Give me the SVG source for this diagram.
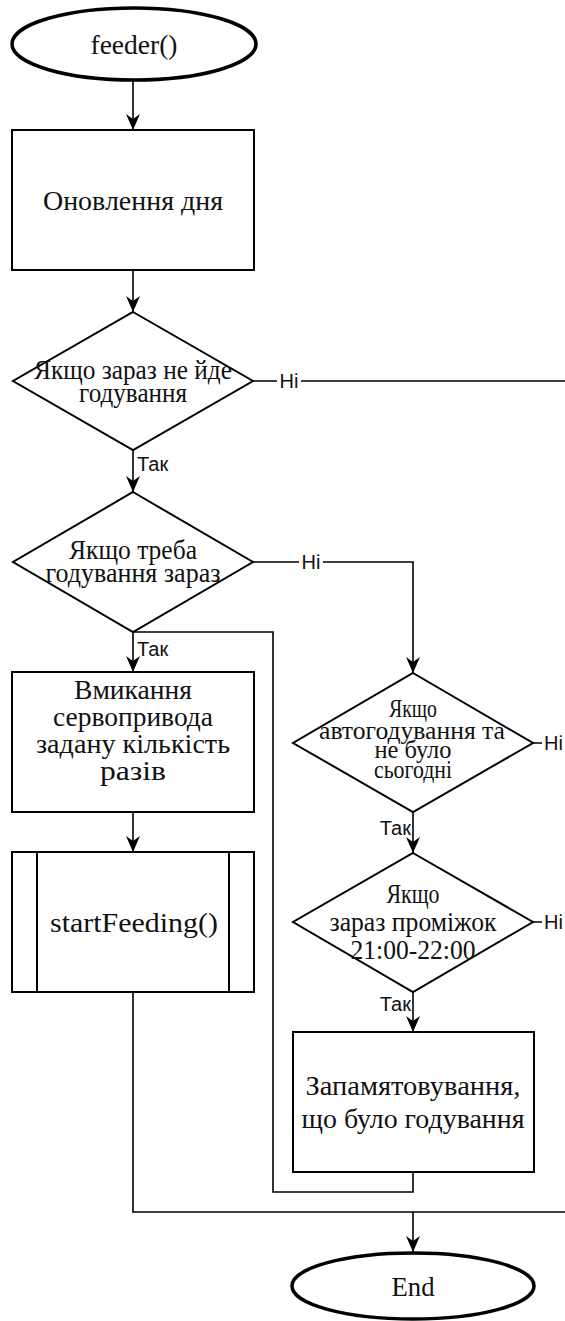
<svg xmlns="http://www.w3.org/2000/svg" width="565" height="1321" viewBox="0 0 565 1321">
  <defs>
    <marker id="arrow" viewBox="0 0 16 14" refX="16" refY="7" markerWidth="16" markerHeight="14" markerUnits="userSpaceOnUse" orient="auto">
      <path d="M0,0 L16,7 L0,14 L5,7 z" fill="#000"/>
    </marker>
    <style>
      .shape { fill: #ffffff; stroke: #000; stroke-width: 2; }
      .term { fill: #ffffff; stroke: #000; stroke-width: 3.5; }
      .edge { fill: none; stroke: #000; stroke-width: 1.6; }
      .txt { font-family: "Liberation Serif", "Times New Roman", serif; font-size: 27px; fill: #111; text-anchor: middle; }
      .sm { font-size: 26px; }
      .lbl { font-family: "Liberation Sans", Arial, sans-serif; font-size: 20px; fill: #111; }
    </style>
  </defs>
  <rect width="565" height="1321" fill="#ffffff"/>

  <!-- connectors -->
  <g id="connectors">
    <path class="edge" d="M133,80 V130" marker-end="url(#arrow)"/>
    <path class="edge" d="M133,270 V312" marker-end="url(#arrow)"/>
    <path class="edge" d="M253,381 H566"/>
    <path class="edge" d="M133,450 V492" marker-end="url(#arrow)"/>
    <path class="edge" d="M253,562 H413 V673" marker-end="url(#arrow)"/>
    <path class="edge" d="M133,632 V672" marker-end="url(#arrow)"/>
    <path class="edge" d="M413,1172 V1192 H273 V632 H133"/>
    <path class="edge" d="M133,812 V852" marker-end="url(#arrow)"/>
    <path class="edge" d="M133,992 V1212 H413 V1252" marker-end="url(#arrow)"/>
    <path class="edge" d="M566,1212 H413"/>
    <path class="edge" d="M533,743 H566"/>
    <path class="edge" d="M413,812 V853" marker-end="url(#arrow)"/>
    <path class="edge" d="M533,922 H566"/>
    <path class="edge" d="M413,992 V1032" marker-end="url(#arrow)"/>

    <!-- edge labels -->
    <rect x="277" y="370" width="24" height="22" fill="#ffffff"/>
    <text class="lbl" x="289" y="388" text-anchor="middle">Ні</text>
    <text class="lbl" x="137" y="471">Так</text>
    <rect x="299" y="551" width="24" height="22" fill="#ffffff"/>
    <text class="lbl" x="311" y="569" text-anchor="middle">Ні</text>
    <text class="lbl" x="137" y="656">Так</text>
    <rect x="542" y="732" width="23" height="22" fill="#ffffff"/>
    <text class="lbl" x="544" y="750">Ні</text>
    <text class="lbl" x="411" y="835" text-anchor="end">Так</text>
    <rect x="542" y="911" width="23" height="22" fill="#ffffff"/>
    <text class="lbl" x="544" y="929">Ні</text>
    <text class="lbl" x="411" y="1011" text-anchor="end">Так</text>
  </g>

  <g id="start">
    <ellipse class="term" cx="134" cy="44" rx="122" ry="36"/>
    <text class="txt" x="134" y="54" textLength="87" lengthAdjust="spacingAndGlyphs">feeder()</text>
  </g>

  <g id="update-day">
    <rect class="shape" x="12" y="130" width="242" height="140"/>
    <text class="txt" x="133" y="210" textLength="180" lengthAdjust="spacingAndGlyphs">Оновлення дня</text>
  </g>

  <g id="not-feeding">
    <polygon class="shape" points="133,312 253,381 133,450 13,381"/>
    <text class="txt" x="133" y="379" textLength="198" lengthAdjust="spacingAndGlyphs">Якщо зараз не йде</text>
    <text class="txt" x="133" y="402" textLength="108" lengthAdjust="spacingAndGlyphs">годування</text>
  </g>

  <g id="feed-now">
    <polygon class="shape" points="133,492 253,562 133,632 13,562"/>
    <text class="txt" x="133" y="559" textLength="128" lengthAdjust="spacingAndGlyphs">Якщо треба</text>
    <text class="txt" x="133" y="582" textLength="175" lengthAdjust="spacingAndGlyphs">годування зараз</text>
  </g>

  <g id="servo">
    <rect class="shape" x="12" y="672" width="242" height="140"/>
    <text class="txt" x="133" y="699" textLength="118" lengthAdjust="spacingAndGlyphs">Вмикання</text>
    <text class="txt" x="133" y="726" textLength="160" lengthAdjust="spacingAndGlyphs">сервопривода</text>
    <text class="txt" x="133" y="753" textLength="194" lengthAdjust="spacingAndGlyphs">задану кількість</text>
    <text class="txt" x="133" y="780" textLength="66" lengthAdjust="spacingAndGlyphs">разів</text>
  </g>

  <g id="start-feeding">
    <rect class="shape" x="12" y="852" width="242" height="140"/>
    <line class="shape" x1="37" y1="852" x2="37" y2="992"/>
    <line class="shape" x1="229" y1="852" x2="229" y2="992"/>
    <text class="txt" x="134" y="932" textLength="168" lengthAdjust="spacingAndGlyphs">startFeeding()</text>
  </g>

  <g id="auto-feed">
    <polygon class="shape" points="413,673 533,743 413,812 293,743"/>
    <text class="txt sm" x="413" y="717" textLength="48" lengthAdjust="spacingAndGlyphs">Якщо</text>
    <text class="txt sm" x="412" y="739" textLength="186" lengthAdjust="spacingAndGlyphs">автогодування та</text>
    <text class="txt sm" x="413" y="758" textLength="77" lengthAdjust="spacingAndGlyphs">не було</text>
    <text class="txt sm" x="413" y="778" textLength="78" lengthAdjust="spacingAndGlyphs">сьогодні</text>
  </g>

  <g id="time-window">
    <polygon class="shape" points="413,853 533,922 413,992 293,922"/>
    <text class="txt" x="413" y="903" textLength="53" lengthAdjust="spacingAndGlyphs">Якщо</text>
    <text class="txt" x="413" y="931" textLength="167" lengthAdjust="spacingAndGlyphs">зараз проміжок</text>
    <text class="txt" x="413" y="959" textLength="125" lengthAdjust="spacingAndGlyphs">21:00-22:00</text>
  </g>

  <g id="remember">
    <rect class="shape" x="293" y="1032" width="241" height="140"/>
    <text class="txt" x="413" y="1095" textLength="215" lengthAdjust="spacingAndGlyphs">Запамятовування,</text>
    <text class="txt" x="413" y="1128" textLength="223" lengthAdjust="spacingAndGlyphs">що було годування</text>
  </g>

  <g id="end">
    <ellipse class="term" cx="413" cy="1286" rx="121" ry="33"/>
    <text class="txt" x="413" y="1296" textLength="43" lengthAdjust="spacingAndGlyphs">End</text>
  </g>
</svg>
